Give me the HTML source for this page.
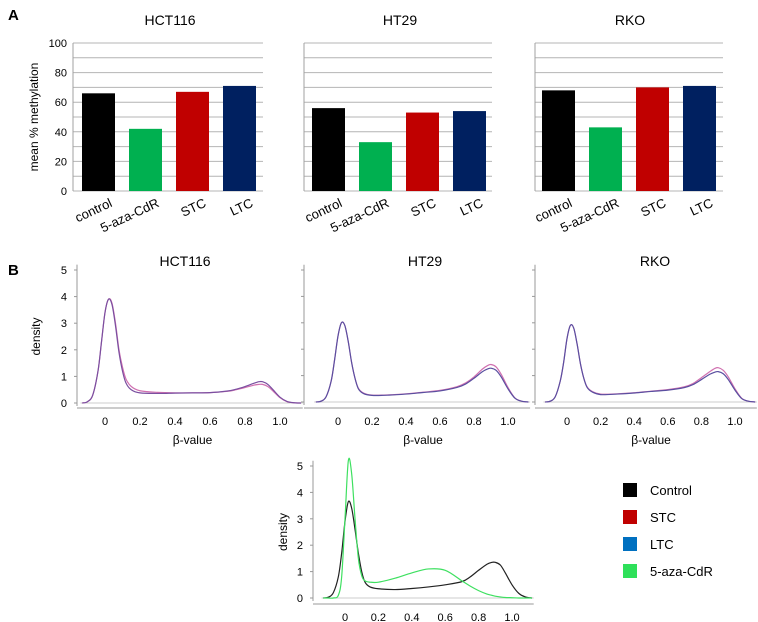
<!DOCTYPE html>
<html><head><meta charset="utf-8"><style>
body{margin:0;background:#fff}
svg{display:block;font-family:"Liberation Sans",Arial,sans-serif}
</style></head><body>
<svg id="fig" width="758" height="622" viewBox="0 0 758 622"></svg>
<script>
const NS="http://www.w3.org/2000/svg";
const svg=document.getElementById('fig');
const categories=["control","5-aza-CdR","STC","LTC"];
const cellLines=["HCT116","HT29","RKO"];
const hct116Values=[66,42,67,71];
const ht29Values=[56,33,53,54];
const rkoValues=[68,43,70,71];
const barTicks=[0,20,40,60,80,100];
const densTicks=[0,1,2,3,4,5];
const betaTicks=[0,0.2,0.4,0.6,0.8,1.0];
const betaTickLabels=["0","0.2","0.4","0.6","0.8","1.0"];
const betaX=[-0.13,-0.1,-0.07,-0.04,-0.02,0,0.02,0.04,0.06,0.08,0.1,0.12,0.15,0.2,0.3,0.4,0.5,0.6,0.7,0.75,0.8,0.85,0.88,0.9,0.93,0.96,1.0,1.04,1.08,1.12];
const hctA=[0,0.05,0.3,1.2,2.3,3.4,3.9,3.7,2.9,1.9,1.2,0.75,0.5,0.38,0.36,0.37,0.38,0.39,0.45,0.52,0.62,0.74,0.8,0.8,0.7,0.5,0.22,0.06,0.01,0];
const hctB=[0,0.05,0.3,1.2,2.3,3.4,3.9,3.75,3.0,2.0,1.35,0.9,0.62,0.46,0.4,0.38,0.38,0.39,0.44,0.5,0.58,0.67,0.7,0.7,0.62,0.45,0.2,0.05,0.01,0];
const ht29A=[0,0.03,0.2,0.8,1.6,2.5,3.0,2.9,2.3,1.5,0.9,0.5,0.32,0.25,0.26,0.3,0.36,0.42,0.55,0.68,0.9,1.15,1.25,1.28,1.2,0.95,0.5,0.15,0.03,0];
const ht29B=[0,0.03,0.2,0.8,1.6,2.5,3.0,2.9,2.3,1.5,0.9,0.52,0.34,0.26,0.27,0.31,0.37,0.44,0.58,0.72,0.95,1.25,1.38,1.42,1.33,1.05,0.55,0.16,0.03,0];
const rkoA=[0,0.03,0.2,0.8,1.5,2.4,2.9,2.8,2.2,1.45,0.9,0.55,0.38,0.28,0.3,0.34,0.4,0.45,0.55,0.66,0.85,1.05,1.13,1.15,1.07,0.85,0.45,0.13,0.03,0];
const rkoB=[0,0.03,0.2,0.8,1.5,2.4,2.9,2.8,2.2,1.45,0.9,0.57,0.4,0.3,0.31,0.35,0.41,0.47,0.58,0.7,0.92,1.15,1.27,1.3,1.2,0.95,0.5,0.14,0.03,0];
const controlDens=[0,0.03,0.2,0.8,1.7,2.9,3.65,3.4,2.6,1.7,1.0,0.6,0.42,0.35,0.32,0.36,0.42,0.5,0.62,0.8,1.05,1.28,1.35,1.35,1.25,0.95,0.5,0.18,0.04,0];
const azaDens=[0,0,0,0.1,0.8,3.0,5.2,4.7,3.0,1.5,0.85,0.65,0.6,0.6,0.75,0.95,1.1,1.05,0.65,0.45,0.28,0.15,0.1,0.07,0.04,0.02,0.01,0,0,0];
const legendLabels=["Control","STC","LTC","5-aza-CdR"];
const legendColors=["#000000","#c00000","#0070c0","#2ee05a"];
const barColors=["#000000","#00b050","#c00000","#002060"];

function el(tag,attrs,parent){const e=document.createElementNS(NS,tag);for(const k in attrs)e.setAttribute(k,attrs[k]);(parent||svg).appendChild(e);return e;}
function txt(x,y,s,size,anchor,parent,extra){const t=el('text',Object.assign({x:x,y:y,'font-size':size,'text-anchor':anchor||'middle',fill:'#000'},extra||{}),parent);t.textContent=s;return t;}

let t=txt(8,20,"A",15,'start',svg,{'font-weight':'bold'});


t=txt(8,275,"B",15,'start',svg,{'font-weight':'bold'});



const barPanels=[{x0:73,x1:263,bars:[82,129,176,223],vals:hct116Values,name:"hct116",title:"HCT116",tx:170,axisLabels:true},
{x0:304,x1:492,bars:[312,359,406,453],vals:ht29Values,name:"ht29",title:"HT29",tx:400},
{x0:535,x1:723,bars:[542,589,636,683],vals:rkoValues,name:"rko",title:"RKO",tx:630}];
const by0=191,by1=43;
function yBar(v){return by0-(v/100)*(by0-by1);}
barPanels.forEach(p=>{
  const g=el('g',{});
  
  
  let tt=txt(p.tx,25,p.title,14,'middle',g);
  
  
  for(let v=0;v<=100;v+=10){const l=el('line',{x1:p.x0,x2:p.x1,y1:yBar(v),y2:yBar(v),stroke:'#b4b4b4','stroke-width':1},g);
    
    }
  const ax=el('line',{x1:p.x0,x2:p.x0,y1:by1,y2:by0,stroke:'#a0a0a0'},g);
  
  
  p.vals.forEach((v,i)=>{
    const r=el('rect',{x:p.bars[i],y:yBar(v),width:33,height:by0-yBar(v),fill:barColors[i]},g);
    
    
    const lx=p.bars[i]+31,ly=by0+15;
    const lb=txt(lx,ly,categories[i],13,'end',g,{transform:`rotate(-25 ${lx} ${ly})`});
    
    
  });
  if(p.axisLabels){
    barTicks.forEach(v=>{const l=txt(p.x0-6,yBar(v)+4,String(v),11,'end',g);
      
      });
    const yl=txt(38,117,"mean % methylation",12,'middle',g,{transform:'rotate(-90 38 117)'});
    
    
  }
});

function pathFrom(xs,ys,fx,fy){
  const P=xs.map((x,i)=>[fx(x),fy(ys[i])]);
  let d=`M${P[0][0]},${P[0][1]}`;
  for(let i=0;i<P.length-1;i++){
    const p0=P[Math.max(0,i-1)],p1=P[i],p2=P[i+1],p3=P[Math.min(P.length-1,i+2)];
    const c1=[p1[0]+(p2[0]-p0[0])/6,p1[1]+(p2[1]-p0[1])/6];
    const c2=[p2[0]-(p3[0]-p1[0])/6,p2[1]-(p3[1]-p1[1])/6];
    d+=` C${c1[0]},${c1[1]} ${c2[0]},${c2[1]} ${p2[0]},${p2[1]}`;
  }
  return d;
}
const densPanels=[
 {name:"hct116",title:"HCT116",ax:77,x0:105,x1:280,y0:403,y5:270,xb:408,series:[[hctB,'#d070b0'],[hctA,'#7a4fa0']],labels:true,tx:185},
 {name:"ht29",title:"HT29",ax:304,x0:338,x1:508,y0:402,y5:270,xb:408,series:[[ht29B,'#d070b0'],[ht29A,'#5a4fa0']],tx:425},
 {name:"rko",title:"RKO",ax:535,x0:567,x1:735,y0:402,y5:270,xb:408,series:[[rkoB,'#d070b0'],[rkoA,'#5a4fa0']],tx:655},
 {name:"combined",title:"",ax:313,x0:345,x1:512,y0:598,y5:466,xb:604,series:[[controlDens,'#222'],[azaDens,'#3ee060']],labels:true}
];
densPanels.forEach(p=>{
  const g=el('g',{});
  
  
  const fx=v=>p.x0+v*(p.x1-p.x0);
  const fy=v=>p.y0-v*(p.y0-p.y5)/5;
  if(p.title){const tt=txt(p.tx,266,p.title,14,'middle',g);
    
    }
  const ya=el('line',{x1:p.ax,x2:p.ax,y1:fy(5.2),y2:fy(0)+3,stroke:'#999'},g);
  
  
  densTicks.forEach(v=>{
    const tk=el('line',{x1:p.ax-3,x2:p.ax,y1:fy(v),y2:fy(v),stroke:'#999'},g);
    
    
    if(p.labels){const l=txt(p.ax-10,fy(v)+4,String(v),11,'end',g);
      
      }
  });
  const zl=el('line',{x1:fx(-0.14),x2:fx(1.13),y1:fy(0),y2:fy(0),stroke:'#ccc'},g);
  
  
  const xa=el('line',{x1:p.ax,x2:fx(1.13),y1:p.xb,y2:p.xb,stroke:'#999'},g);
  
  
  betaTicks.forEach((v,i)=>{
    const l=txt(fx(v),p.xb+17,betaTickLabels[i],11,'middle',g);
    
    
  });
  if(p.title){const xl=txt(fx(0.5),p.xb+36,"β-value",12,'middle',g);
    
    }
  if(p.labels){const yx=p.name==="combined"?287:40,yy=fy(2.5);
    const yl=txt(yx,yy,"density",12,'middle',g,{transform:`rotate(-90 ${yx} ${yy})`});
    
    }
  p.series.forEach((s,i)=>{
    const pa=el('path',{d:pathFrom(betaX,s[0],fx,fy),fill:'none',stroke:s[1],'stroke-width':1.2},g);
    
    
  });
});

const lg=el('g',{});


legendLabels.forEach((s,i)=>{
  const y=490+i*27;
  const r=el('rect',{x:623,y:y-7,width:14,height:14,fill:legendColors[i]},lg);
  
  
  const l=txt(650,y+5,s,13,'start',lg);
  
  
});
</script>
</body></html>
